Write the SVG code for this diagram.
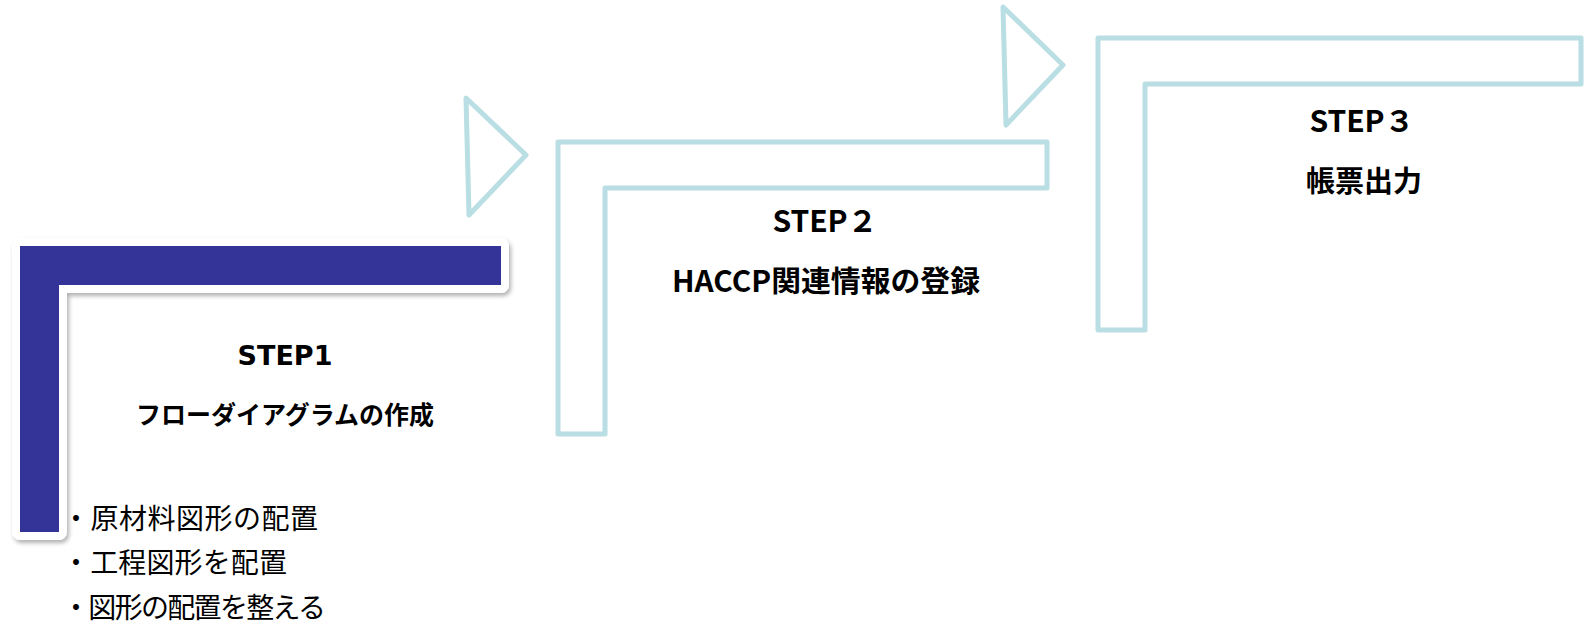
<svg xmlns="http://www.w3.org/2000/svg" width="1584" height="626" viewBox="0 0 1584 626">
<defs>
<filter id="sh" x="-5%" y="-5%" width="115%" height="115%">
<feDropShadow dx="2" dy="3" stdDeviation="2" flood-color="#000" flood-opacity="0.3"/>
</filter>
<style>
.frame{fill:none;stroke:#B9DEE3;stroke-width:5;stroke-linejoin:round}
.arrow{fill:none;stroke:#B9DEE3;stroke-width:5;stroke-linejoin:round}
.title{font-family:"Noto Sans CJK JP","Noto Sans",sans-serif;font-weight:bold;fill:#000;text-anchor:middle}
.step1{font-family:"DejaVu Sans",sans-serif;font-weight:bold;fill:#000;text-anchor:middle;font-size:27px}
.bullet{font-family:"Noto Sans CJK JP",sans-serif;font-size:28px;fill:#000}
</style>
</defs>
<rect width="1584" height="626" fill="#fff"/>
<g id="connectors">
<polygon class="arrow" points="466,98 526,155 469,215"/>
<polygon class="arrow" points="1003,7 1063,65 1006,125"/>
</g>
<g id="step1">
<polygon points="20,246 501,246 501,285 59,285 59,532 20,532" fill="#fff" stroke="#fff" stroke-width="16" stroke-linejoin="round" filter="url(#sh)"/>
<polygon points="20,246 501,246 501,285 59,285 59,532 20,532" fill="#343498"/>
<text class="step1" x="285" y="365">STEP1</text>
<text class="title" x="285" y="424" font-size="25">フローダイアグラムの作成</text>
<text class="bullet" x="62" y="529" textLength="256" lengthAdjust="spacing">・原材料図形の配置</text>
<text class="bullet" x="62" y="573" textLength="225" lengthAdjust="spacing">・工程図形を配置</text>
<text class="bullet" x="62" y="618" textLength="264" lengthAdjust="spacing">・図形の配置を整える</text>
</g>
<g id="step2">
<polygon class="frame" points="558,142 1047,142 1047,188 605,188 605,434 558,434"/>
<text class="title" x="825" y="232" font-size="30">STEP２</text>
<text class="title" x="826" y="292" font-size="29" textLength="308" lengthAdjust="spacingAndGlyphs">HACCP関連情報の登録</text>
</g>
<g id="step3">
<polygon class="frame" points="1098,38 1581,38 1581,84 1145,84 1145,330 1098,330"/>
<text class="title" x="1362" y="132" font-size="30">STEP３</text>
<text class="title" x="1364" y="192" font-size="29">帳票出力</text>
</g>
</svg>
